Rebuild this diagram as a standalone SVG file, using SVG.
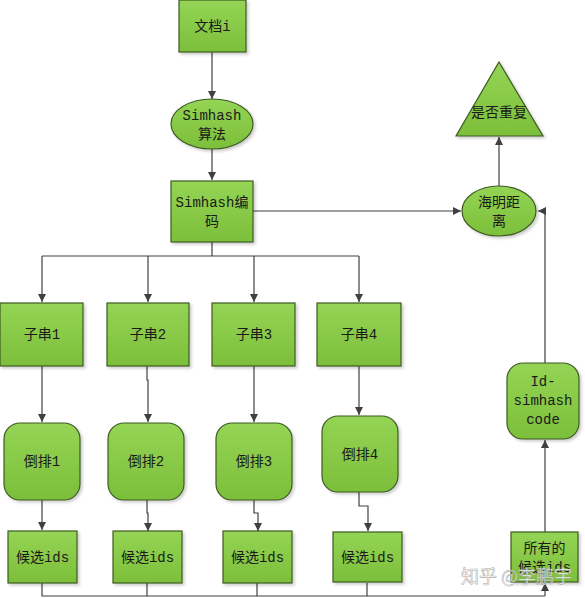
<svg xmlns="http://www.w3.org/2000/svg" width="585" height="598" viewBox="0 0 585 598">
<defs>
<linearGradient id="g" x1="0" y1="0" x2="0" y2="1">
<stop offset="0" stop-color="#95d455"/>
<stop offset="1" stop-color="#7cbf3a"/>
</linearGradient>
<marker id="a" viewBox="0 0 10 10" refX="10" refY="5" markerWidth="8" markerHeight="8" markerUnits="userSpaceOnUse" orient="auto">
<path d="M0,0 L10,5 L0,10 Z" fill="#404040"/>
</marker>
<filter id="s" x="-10%" y="-10%" width="130%" height="130%">
<feGaussianBlur in="SourceAlpha" stdDeviation="1.5"/>
<feOffset dx="2" dy="2" result="b"/>
<feComponentTransfer><feFuncA type="linear" slope="0.2"/></feComponentTransfer>
<feMerge><feMergeNode/><feMergeNode in="SourceGraphic"/></feMerge>
</filter>
</defs>
<style>
.n{fill:url(#g);stroke:#3d5a22;stroke-width:1.2;filter:url(#s)}
.t{font-family:"Liberation Mono","Noto Sans CJK SC",monospace;font-size:14px;fill:#1a1a1a;text-anchor:middle}
.c{fill:none;stroke:#404040;stroke-width:1.2}
.ar{marker-end:url(#a)}
.wm{font-family:"Noto Sans CJK SC",sans-serif;font-size:18px;fill:#ffffff;fill-opacity:0.85;stroke:#9a9a9a;stroke-width:0.6;stroke-opacity:0.8}
</style>
<rect width="585" height="598" fill="#ffffff"/>

<g id="connectors">
<path class="c ar" d="M212,52 V99"/>
<path class="c ar" d="M212,149 V180"/>
<path class="c ar" d="M253,211 H461"/>
<path class="c ar" d="M499,186 V137"/>
<path class="c" d="M212,242 V256 M42,256 H359"/>
<path class="c ar" d="M42,256 V302"/>
<path class="c ar" d="M148,256 V302"/>
<path class="c ar" d="M254,256 V302"/>
<path class="c ar" d="M359,256 V302"/>
<path class="c ar" d="M42,366 V422"/>
<path class="c ar" d="M147,366 V380 H148 V422"/>
<path class="c ar" d="M254,366 V422"/>
<path class="c ar" d="M359,366 V415"/>
<path class="c ar" d="M42,500 V530"/>
<path class="c ar" d="M147,500 V513 H148 V531"/>
<path class="c ar" d="M254,500 V513 H258 V531"/>
<path class="c ar" d="M359,492 V506 H368 V531"/>
<path class="c" d="M42,583 V596 H545 M147,583 V596 M257,583 V596 M367,583 V596"/>
<path class="c ar" d="M545,596 V583"/>
<path class="c ar" d="M545,532 V440"/>
<path class="c ar" d="M545,363 V211 H538"/>
</g>

<g id="doc"><rect class="n" x="179" y="0" width="67" height="52"/><text class="t" x="212.5" y="31">文档i</text></g>
<g id="simhash-alg"><ellipse class="n" cx="212" cy="124" rx="41" ry="25"/><text class="t" x="212" y="120">Simhash</text><text class="t" x="212" y="139">算法</text></g>
<g id="simhash-code"><rect class="n" x="171" y="181" width="82" height="61"/><text class="t" x="212" y="207">Simhash编</text><text class="t" x="212" y="226">码</text></g>
<g id="hamming"><ellipse class="n" cx="499" cy="211" rx="37" ry="25"/><text class="t" x="499" y="207">海明距</text><text class="t" x="499" y="226">离</text></g>
<g id="dup"><polygon class="n" points="499,62 543,136 456,136"/><text class="t" x="499" y="117">是否重复</text></g>

<g id="sub1"><rect class="n" x="0" y="303" width="83" height="63"/><text class="t" x="42" y="339">子串1</text></g>
<g id="sub2"><rect class="n" x="107" y="303" width="82" height="63"/><text class="t" x="148" y="339">子串2</text></g>
<g id="sub3"><rect class="n" x="212" y="303" width="83" height="63"/><text class="t" x="254" y="339">子串3</text></g>
<g id="sub4"><rect class="n" x="317" y="303" width="84" height="63"/><text class="t" x="359" y="339">子串4</text></g>

<g id="inv1"><rect class="n" x="4" y="423" width="76" height="77" rx="16"/><text class="t" x="42" y="466">倒排1</text></g>
<g id="inv2"><rect class="n" x="108" y="423" width="76" height="77" rx="16"/><text class="t" x="146" y="466">倒排2</text></g>
<g id="inv3"><rect class="n" x="216" y="423" width="76" height="77" rx="16"/><text class="t" x="254" y="466">倒排3</text></g>
<g id="inv4"><rect class="n" x="322" y="416" width="76" height="76" rx="16"/><text class="t" x="360" y="459">倒排4</text></g>

<g id="cand1"><rect class="n" x="8" y="531" width="69" height="52"/><text class="t" x="42.5" y="562">候选ids</text></g>
<g id="cand2"><rect class="n" x="113" y="531" width="69" height="52"/><text class="t" x="147.5" y="562">候选ids</text></g>
<g id="cand3"><rect class="n" x="223" y="531" width="69" height="52"/><text class="t" x="257.5" y="562">候选ids</text></g>
<g id="cand4"><rect class="n" x="333" y="532" width="69" height="50"/><text class="t" x="367.5" y="562">候选ids</text></g>

<g id="all-cand"><rect class="n" x="511" y="532" width="67" height="50"/><text class="t" x="544.5" y="553">所有的</text><text class="t" x="544.5" y="572">候选ids</text></g>
<g id="id-simhash"><rect class="n" x="507" y="363" width="72" height="76" rx="16"/><text class="t" x="543" y="386">Id-</text><text class="t" x="543" y="405">simhash</text><text class="t" x="543" y="424">code</text></g>

<text class="wm" x="461" y="583">知乎 @李鹏宇</text>
</svg>
